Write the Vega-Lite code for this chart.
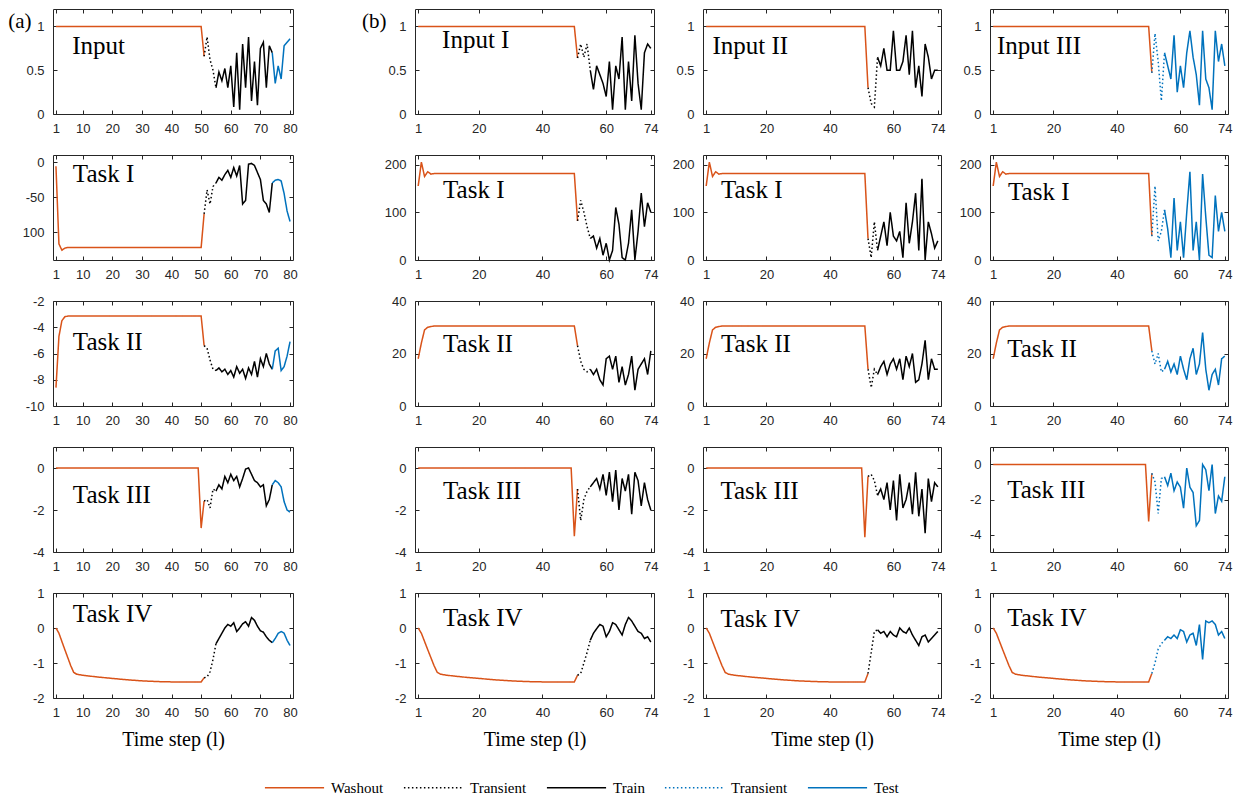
{
"$schema":"https://vega.github.io/schema/vega-lite/v6.json",
"padding":{"left":7,"top":8,"right":5,"bottom":5},
"background":"white",
"datasets":{"d":[
{"p":"a1","t":1,"v":1,"s":"W"},{"p":"a1","t":25,"v":1,"s":"W"},{"p":"a1","t":50,"v":1,"s":"W"},{"p":"a1","t":51,"v":0.66,"s":"W"},
{"p":"a1","t":51,"v":0.66,"s":"T1"},{"p":"a1","t":52,"v":0.88,"s":"T1"},{"p":"a1","t":53,"v":0.62,"s":"T1"},{"p":"a1","t":54,"v":0.5,"s":"T1"},{"p":"a1","t":55,"v":0.3,"s":"T1"},
{"p":"a1","t":55,"v":0.3,"s":"R"},{"p":"a1","t":56,"v":0.48,"s":"R"},{"p":"a1","t":57,"v":0.38,"s":"R"},{"p":"a1","t":58,"v":0.52,"s":"R"},{"p":"a1","t":59,"v":0.3,"s":"R"},{"p":"a1","t":60,"v":0.55,"s":"R"},{"p":"a1","t":61,"v":0.08,"s":"R"},{"p":"a1","t":62,"v":0.7,"s":"R"},{"p":"a1","t":63,"v":0.05,"s":"R"},{"p":"a1","t":64,"v":0.8,"s":"R"},{"p":"a1","t":65,"v":0.3,"s":"R"},{"p":"a1","t":66,"v":0.88,"s":"R"},{"p":"a1","t":67,"v":0.15,"s":"R"},{"p":"a1","t":68,"v":0.6,"s":"R"},{"p":"a1","t":69,"v":0.1,"s":"R"},{"p":"a1","t":70,"v":0.75,"s":"R"},{"p":"a1","t":71,"v":0.82,"s":"R"},{"p":"a1","t":72,"v":0.3,"s":"R"},{"p":"a1","t":73,"v":0.78,"s":"R"},{"p":"a1","t":74,"v":0.7,"s":"R"},
{"p":"a1","t":74,"v":0.7,"s":"E"},{"p":"a1","t":75,"v":0.35,"s":"E"},{"p":"a1","t":76,"v":0.55,"s":"E"},{"p":"a1","t":77,"v":0.4,"s":"E"},{"p":"a1","t":78,"v":0.78,"s":"E"},{"p":"a1","t":79,"v":0.82,"s":"E"},{"p":"a1","t":80,"v":0.86,"s":"E"},

{"p":"a2","t":1,"v":-6,"s":"W"},{"p":"a2","t":2,"v":-117,"s":"W"},{"p":"a2","t":3,"v":-126,"s":"W"},{"p":"a2","t":4,"v":-123,"s":"W"},{"p":"a2","t":5,"v":-122,"s":"W"},{"p":"a2","t":25,"v":-122,"s":"W"},{"p":"a2","t":50,"v":-122,"s":"W"},{"p":"a2","t":51,"v":-74,"s":"W"},
{"p":"a2","t":51,"v":-74,"s":"T1"},{"p":"a2","t":52,"v":-40,"s":"T1"},{"p":"a2","t":53,"v":-60,"s":"T1"},{"p":"a2","t":54,"v":-35,"s":"T1"},{"p":"a2","t":55,"v":-30,"s":"T1"},
{"p":"a2","t":55,"v":-30,"s":"R"},{"p":"a2","t":56,"v":-22,"s":"R"},{"p":"a2","t":57,"v":-26,"s":"R"},{"p":"a2","t":58,"v":-18,"s":"R"},{"p":"a2","t":59,"v":-12,"s":"R"},{"p":"a2","t":60,"v":-22,"s":"R"},{"p":"a2","t":61,"v":-8,"s":"R"},{"p":"a2","t":62,"v":-20,"s":"R"},{"p":"a2","t":63,"v":-5,"s":"R"},{"p":"a2","t":64,"v":-60,"s":"R"},{"p":"a2","t":65,"v":-55,"s":"R"},{"p":"a2","t":66,"v":-3,"s":"R"},{"p":"a2","t":67,"v":-2,"s":"R"},{"p":"a2","t":68,"v":-5,"s":"R"},{"p":"a2","t":69,"v":-15,"s":"R"},{"p":"a2","t":70,"v":-25,"s":"R"},{"p":"a2","t":71,"v":-55,"s":"R"},{"p":"a2","t":72,"v":-60,"s":"R"},{"p":"a2","t":73,"v":-72,"s":"R"},{"p":"a2","t":74,"v":-30,"s":"R"},
{"p":"a2","t":74,"v":-30,"s":"E"},{"p":"a2","t":75,"v":-26,"s":"E"},{"p":"a2","t":76,"v":-25,"s":"E"},{"p":"a2","t":77,"v":-27,"s":"E"},{"p":"a2","t":78,"v":-45,"s":"E"},{"p":"a2","t":79,"v":-70,"s":"E"},{"p":"a2","t":80,"v":-85,"s":"E"},

{"p":"a3","t":1,"v":-8.6,"s":"W"},{"p":"a3","t":2,"v":-4.7,"s":"W"},{"p":"a3","t":3,"v":-3.5,"s":"W"},{"p":"a3","t":4,"v":-3.2,"s":"W"},{"p":"a3","t":5,"v":-3.15,"s":"W"},{"p":"a3","t":25,"v":-3.15,"s":"W"},{"p":"a3","t":50,"v":-3.15,"s":"W"},{"p":"a3","t":51,"v":-5.4,"s":"W"},
{"p":"a3","t":51,"v":-5.4,"s":"T1"},{"p":"a3","t":52,"v":-5.6,"s":"T1"},{"p":"a3","t":53,"v":-6.5,"s":"T1"},{"p":"a3","t":54,"v":-7.2,"s":"T1"},{"p":"a3","t":55,"v":-7.3,"s":"T1"},
{"p":"a3","t":55,"v":-7.3,"s":"R"},{"p":"a3","t":56,"v":-7.1,"s":"R"},{"p":"a3","t":57,"v":-7.4,"s":"R"},{"p":"a3","t":58,"v":-7.2,"s":"R"},{"p":"a3","t":59,"v":-7.6,"s":"R"},{"p":"a3","t":60,"v":-7.3,"s":"R"},{"p":"a3","t":61,"v":-7.8,"s":"R"},{"p":"a3","t":62,"v":-7.0,"s":"R"},{"p":"a3","t":63,"v":-7.5,"s":"R"},{"p":"a3","t":64,"v":-7.2,"s":"R"},{"p":"a3","t":65,"v":-7.9,"s":"R"},{"p":"a3","t":66,"v":-7.1,"s":"R"},{"p":"a3","t":67,"v":-7.6,"s":"R"},{"p":"a3","t":68,"v":-6.6,"s":"R"},{"p":"a3","t":69,"v":-7.8,"s":"R"},{"p":"a3","t":70,"v":-6.4,"s":"R"},{"p":"a3","t":71,"v":-7.0,"s":"R"},{"p":"a3","t":72,"v":-6.0,"s":"R"},{"p":"a3","t":73,"v":-6.8,"s":"R"},{"p":"a3","t":74,"v":-7.2,"s":"R"},
{"p":"a3","t":74,"v":-7.2,"s":"E"},{"p":"a3","t":75,"v":-5.8,"s":"E"},{"p":"a3","t":76,"v":-5.6,"s":"E"},{"p":"a3","t":77,"v":-7.3,"s":"E"},{"p":"a3","t":78,"v":-7.0,"s":"E"},{"p":"a3","t":79,"v":-6.2,"s":"E"},{"p":"a3","t":80,"v":-5.1,"s":"E"},

{"p":"a4","t":1,"v":0,"s":"W"},{"p":"a4","t":25,"v":0,"s":"W"},{"p":"a4","t":49,"v":0,"s":"W"},{"p":"a4","t":50,"v":-2.86,"s":"W"},{"p":"a4","t":51,"v":-1.57,"s":"W"},
{"p":"a4","t":51,"v":-1.57,"s":"T1"},{"p":"a4","t":52,"v":-1.5,"s":"T1"},{"p":"a4","t":53,"v":-1.9,"s":"T1"},{"p":"a4","t":54,"v":-1.0,"s":"T1"},{"p":"a4","t":55,"v":-1.1,"s":"T1"},
{"p":"a4","t":55,"v":-1.1,"s":"R"},{"p":"a4","t":56,"v":-0.8,"s":"R"},{"p":"a4","t":57,"v":-1.0,"s":"R"},{"p":"a4","t":58,"v":-0.4,"s":"R"},{"p":"a4","t":59,"v":-0.7,"s":"R"},{"p":"a4","t":60,"v":-0.3,"s":"R"},{"p":"a4","t":61,"v":-0.6,"s":"R"},{"p":"a4","t":62,"v":-0.4,"s":"R"},{"p":"a4","t":63,"v":-0.9,"s":"R"},{"p":"a4","t":64,"v":-0.5,"s":"R"},{"p":"a4","t":65,"v":-0.05,"s":"R"},{"p":"a4","t":66,"v":0.0,"s":"R"},{"p":"a4","t":67,"v":-0.3,"s":"R"},{"p":"a4","t":68,"v":-0.6,"s":"R"},{"p":"a4","t":69,"v":-0.7,"s":"R"},{"p":"a4","t":70,"v":-0.9,"s":"R"},{"p":"a4","t":71,"v":-0.8,"s":"R"},{"p":"a4","t":72,"v":-1.8,"s":"R"},{"p":"a4","t":73,"v":-1.5,"s":"R"},{"p":"a4","t":74,"v":-0.8,"s":"R"},
{"p":"a4","t":74,"v":-0.8,"s":"E"},{"p":"a4","t":75,"v":-0.6,"s":"E"},{"p":"a4","t":76,"v":-0.7,"s":"E"},{"p":"a4","t":77,"v":-0.9,"s":"E"},{"p":"a4","t":78,"v":-1.6,"s":"E"},{"p":"a4","t":79,"v":-2.0,"s":"E"},{"p":"a4","t":80,"v":-2.1,"s":"E"},

{"p":"a5","t":1,"v":0,"s":"W"},{"p":"a5","t":2,"v":-0.15,"s":"W"},{"p":"a5","t":4,"v":-0.62,"s":"W"},{"p":"a5","t":6,"v":-1.08,"s":"W"},{"p":"a5","t":7,"v":-1.27,"s":"W"},{"p":"a5","t":8,"v":-1.32,"s":"W"},{"p":"a5","t":10,"v":-1.35,"s":"W"},{"p":"a5","t":15,"v":-1.4,"s":"W"},{"p":"a5","t":20,"v":-1.44,"s":"W"},{"p":"a5","t":25,"v":-1.48,"s":"W"},{"p":"a5","t":30,"v":-1.51,"s":"W"},{"p":"a5","t":35,"v":-1.53,"s":"W"},{"p":"a5","t":40,"v":-1.54,"s":"W"},{"p":"a5","t":45,"v":-1.54,"s":"W"},{"p":"a5","t":50,"v":-1.54,"s":"W"},{"p":"a5","t":51,"v":-1.42,"s":"W"},
{"p":"a5","t":51,"v":-1.42,"s":"T1"},{"p":"a5","t":52,"v":-1.4,"s":"T1"},{"p":"a5","t":53,"v":-1.25,"s":"T1"},{"p":"a5","t":54,"v":-0.9,"s":"T1"},{"p":"a5","t":55,"v":-0.45,"s":"T1"},
{"p":"a5","t":55,"v":-0.45,"s":"R"},{"p":"a5","t":56,"v":-0.3,"s":"R"},{"p":"a5","t":57,"v":-0.15,"s":"R"},{"p":"a5","t":58,"v":0.0,"s":"R"},{"p":"a5","t":59,"v":0.1,"s":"R"},{"p":"a5","t":60,"v":0.05,"s":"R"},{"p":"a5","t":61,"v":0.15,"s":"R"},{"p":"a5","t":62,"v":-0.1,"s":"R"},{"p":"a5","t":63,"v":0.0,"s":"R"},{"p":"a5","t":64,"v":0.12,"s":"R"},{"p":"a5","t":65,"v":0.18,"s":"R"},{"p":"a5","t":66,"v":0.05,"s":"R"},{"p":"a5","t":67,"v":0.3,"s":"R"},{"p":"a5","t":68,"v":0.22,"s":"R"},{"p":"a5","t":69,"v":0.05,"s":"R"},{"p":"a5","t":70,"v":-0.08,"s":"R"},{"p":"a5","t":71,"v":-0.12,"s":"R"},{"p":"a5","t":72,"v":-0.25,"s":"R"},{"p":"a5","t":73,"v":-0.35,"s":"R"},{"p":"a5","t":74,"v":-0.42,"s":"R"},
{"p":"a5","t":74,"v":-0.42,"s":"E"},{"p":"a5","t":75,"v":-0.3,"s":"E"},{"p":"a5","t":76,"v":-0.15,"s":"E"},{"p":"a5","t":77,"v":-0.1,"s":"E"},{"p":"a5","t":78,"v":-0.15,"s":"E"},{"p":"a5","t":79,"v":-0.35,"s":"E"},{"p":"a5","t":80,"v":-0.5,"s":"E"},

{"p":"b1","t":1,"v":1,"s":"W"},{"p":"b1","t":25,"v":1,"s":"W"},{"p":"b1","t":50,"v":1,"s":"W"},{"p":"b1","t":51,"v":0.64,"s":"W"},
{"p":"b1","t":51,"v":0.64,"s":"T1"},{"p":"b1","t":52,"v":0.8,"s":"T1"},{"p":"b1","t":53,"v":0.65,"s":"T1"},{"p":"b1","t":54,"v":0.8,"s":"T1"},{"p":"b1","t":55,"v":0.5,"s":"T1"},
{"p":"b1","t":55,"v":0.5,"s":"R"},{"p":"b1","t":56,"v":0.28,"s":"R"},{"p":"b1","t":57,"v":0.55,"s":"R"},{"p":"b1","t":58,"v":0.45,"s":"R"},{"p":"b1","t":59,"v":0.35,"s":"R"},{"p":"b1","t":60,"v":0.2,"s":"R"},{"p":"b1","t":61,"v":0.6,"s":"R"},{"p":"b1","t":62,"v":0.05,"s":"R"},{"p":"b1","t":63,"v":0.55,"s":"R"},{"p":"b1","t":64,"v":0.4,"s":"R"},{"p":"b1","t":65,"v":0.88,"s":"R"},{"p":"b1","t":66,"v":0.05,"s":"R"},{"p":"b1","t":67,"v":0.6,"s":"R"},{"p":"b1","t":68,"v":0.15,"s":"R"},{"p":"b1","t":69,"v":0.9,"s":"R"},{"p":"b1","t":70,"v":0.35,"s":"R"},{"p":"b1","t":71,"v":0.05,"s":"R"},{"p":"b1","t":72,"v":0.7,"s":"R"},{"p":"b1","t":73,"v":0.8,"s":"R"},{"p":"b1","t":74,"v":0.75,"s":"R"},

{"p":"b2","t":1,"v":155,"s":"W"},{"p":"b2","t":2,"v":205,"s":"W"},{"p":"b2","t":3,"v":175,"s":"W"},{"p":"b2","t":4,"v":185,"s":"W"},{"p":"b2","t":5,"v":180,"s":"W"},{"p":"b2","t":6,"v":181,"s":"W"},{"p":"b2","t":25,"v":181,"s":"W"},{"p":"b2","t":50,"v":181,"s":"W"},{"p":"b2","t":51,"v":82,"s":"W"},
{"p":"b2","t":51,"v":82,"s":"T1"},{"p":"b2","t":52,"v":125,"s":"T1"},{"p":"b2","t":53,"v":100,"s":"T1"},{"p":"b2","t":54,"v":70,"s":"T1"},{"p":"b2","t":55,"v":45,"s":"T1"},
{"p":"b2","t":55,"v":45,"s":"R"},{"p":"b2","t":56,"v":50,"s":"R"},{"p":"b2","t":57,"v":25,"s":"R"},{"p":"b2","t":58,"v":45,"s":"R"},{"p":"b2","t":59,"v":10,"s":"R"},{"p":"b2","t":60,"v":35,"s":"R"},{"p":"b2","t":61,"v":0,"s":"R"},{"p":"b2","t":62,"v":20,"s":"R"},{"p":"b2","t":63,"v":110,"s":"R"},{"p":"b2","t":64,"v":75,"s":"R"},{"p":"b2","t":65,"v":5,"s":"R"},{"p":"b2","t":66,"v":0,"s":"R"},{"p":"b2","t":67,"v":35,"s":"R"},{"p":"b2","t":68,"v":105,"s":"R"},{"p":"b2","t":69,"v":0,"s":"R"},{"p":"b2","t":70,"v":60,"s":"R"},{"p":"b2","t":71,"v":140,"s":"R"},{"p":"b2","t":72,"v":70,"s":"R"},{"p":"b2","t":73,"v":120,"s":"R"},{"p":"b2","t":74,"v":100,"s":"R"},

{"p":"b3","t":1,"v":18,"s":"W"},{"p":"b3","t":2,"v":24,"s":"W"},{"p":"b3","t":3,"v":29,"s":"W"},{"p":"b3","t":4,"v":30,"s":"W"},{"p":"b3","t":6,"v":30.5,"s":"W"},{"p":"b3","t":25,"v":30.5,"s":"W"},{"p":"b3","t":50,"v":30.5,"s":"W"},{"p":"b3","t":51,"v":23,"s":"W"},
{"p":"b3","t":51,"v":23,"s":"T1"},{"p":"b3","t":52,"v":17,"s":"T1"},{"p":"b3","t":53,"v":14,"s":"T1"},{"p":"b3","t":54,"v":13,"s":"T1"},{"p":"b3","t":55,"v":14,"s":"T1"},
{"p":"b3","t":55,"v":14,"s":"R"},{"p":"b3","t":56,"v":12,"s":"R"},{"p":"b3","t":57,"v":14,"s":"R"},{"p":"b3","t":58,"v":10,"s":"R"},{"p":"b3","t":59,"v":8,"s":"R"},{"p":"b3","t":60,"v":18,"s":"R"},{"p":"b3","t":61,"v":19,"s":"R"},{"p":"b3","t":62,"v":14,"s":"R"},{"p":"b3","t":63,"v":19,"s":"R"},{"p":"b3","t":64,"v":9,"s":"R"},{"p":"b3","t":65,"v":15,"s":"R"},{"p":"b3","t":66,"v":8,"s":"R"},{"p":"b3","t":67,"v":12,"s":"R"},{"p":"b3","t":68,"v":19,"s":"R"},{"p":"b3","t":69,"v":6,"s":"R"},{"p":"b3","t":70,"v":14,"s":"R"},{"p":"b3","t":71,"v":16,"s":"R"},{"p":"b3","t":72,"v":18,"s":"R"},{"p":"b3","t":73,"v":12,"s":"R"},{"p":"b3","t":74,"v":21,"s":"R"},

{"p":"b4","t":1,"v":0,"s":"W"},{"p":"b4","t":25,"v":0,"s":"W"},{"p":"b4","t":49,"v":0,"s":"W"},{"p":"b4","t":50,"v":-3.25,"s":"W"},{"p":"b4","t":51,"v":-1.0,"s":"W"},
{"p":"b4","t":51,"v":-1.0,"s":"T1"},{"p":"b4","t":52,"v":-2.5,"s":"T1"},{"p":"b4","t":53,"v":-1.5,"s":"T1"},{"p":"b4","t":54,"v":-1.1,"s":"T1"},{"p":"b4","t":55,"v":-0.9,"s":"T1"},
{"p":"b4","t":55,"v":-0.9,"s":"R"},{"p":"b4","t":56,"v":-0.7,"s":"R"},{"p":"b4","t":57,"v":-0.5,"s":"R"},{"p":"b4","t":58,"v":-1.0,"s":"R"},{"p":"b4","t":59,"v":-0.3,"s":"R"},{"p":"b4","t":60,"v":-1.3,"s":"R"},{"p":"b4","t":61,"v":-0.2,"s":"R"},{"p":"b4","t":62,"v":-1.6,"s":"R"},{"p":"b4","t":63,"v":-0.1,"s":"R"},{"p":"b4","t":64,"v":-2.0,"s":"R"},{"p":"b4","t":65,"v":-0.5,"s":"R"},{"p":"b4","t":66,"v":-1.1,"s":"R"},{"p":"b4","t":67,"v":-0.3,"s":"R"},{"p":"b4","t":68,"v":-2.2,"s":"R"},{"p":"b4","t":69,"v":-0.2,"s":"R"},{"p":"b4","t":70,"v":-0.6,"s":"R"},{"p":"b4","t":71,"v":-1.8,"s":"R"},{"p":"b4","t":72,"v":-0.7,"s":"R"},{"p":"b4","t":73,"v":-1.5,"s":"R"},{"p":"b4","t":74,"v":-2.0,"s":"R"},

{"p":"b5","t":1,"v":0,"s":"W"},{"p":"b5","t":2,"v":-0.15,"s":"W"},{"p":"b5","t":4,"v":-0.62,"s":"W"},{"p":"b5","t":6,"v":-1.08,"s":"W"},{"p":"b5","t":7,"v":-1.27,"s":"W"},{"p":"b5","t":8,"v":-1.32,"s":"W"},{"p":"b5","t":10,"v":-1.35,"s":"W"},{"p":"b5","t":15,"v":-1.4,"s":"W"},{"p":"b5","t":20,"v":-1.44,"s":"W"},{"p":"b5","t":25,"v":-1.48,"s":"W"},{"p":"b5","t":30,"v":-1.51,"s":"W"},{"p":"b5","t":35,"v":-1.53,"s":"W"},{"p":"b5","t":40,"v":-1.54,"s":"W"},{"p":"b5","t":45,"v":-1.54,"s":"W"},{"p":"b5","t":50,"v":-1.54,"s":"W"},{"p":"b5","t":51,"v":-1.35,"s":"W"},
{"p":"b5","t":51,"v":-1.35,"s":"T1"},{"p":"b5","t":52,"v":-1.3,"s":"T1"},{"p":"b5","t":53,"v":-1.0,"s":"T1"},{"p":"b5","t":54,"v":-0.7,"s":"T1"},{"p":"b5","t":55,"v":-0.35,"s":"T1"},
{"p":"b5","t":55,"v":-0.35,"s":"R"},{"p":"b5","t":56,"v":-0.15,"s":"R"},{"p":"b5","t":57,"v":-0.02,"s":"R"},{"p":"b5","t":58,"v":0.1,"s":"R"},{"p":"b5","t":59,"v":0.05,"s":"R"},{"p":"b5","t":60,"v":-0.25,"s":"R"},{"p":"b5","t":61,"v":-0.1,"s":"R"},{"p":"b5","t":62,"v":0.15,"s":"R"},{"p":"b5","t":63,"v":0.1,"s":"R"},{"p":"b5","t":64,"v":-0.05,"s":"R"},{"p":"b5","t":65,"v":-0.2,"s":"R"},{"p":"b5","t":66,"v":0.1,"s":"R"},{"p":"b5","t":67,"v":0.3,"s":"R"},{"p":"b5","t":68,"v":0.2,"s":"R"},{"p":"b5","t":69,"v":0.05,"s":"R"},{"p":"b5","t":70,"v":-0.1,"s":"R"},{"p":"b5","t":71,"v":-0.15,"s":"R"},{"p":"b5","t":72,"v":-0.3,"s":"R"},{"p":"b5","t":73,"v":-0.25,"s":"R"},{"p":"b5","t":74,"v":-0.4,"s":"R"},

{"p":"c1","t":1,"v":1,"s":"W"},{"p":"c1","t":25,"v":1,"s":"W"},{"p":"c1","t":51,"v":1,"s":"W"},{"p":"c1","t":52,"v":0.3,"s":"W"},
{"p":"c1","t":52,"v":0.3,"s":"T1"},{"p":"c1","t":53,"v":0.12,"s":"T1"},{"p":"c1","t":54,"v":0.08,"s":"T1"},{"p":"c1","t":55,"v":0.65,"s":"T1"},
{"p":"c1","t":55,"v":0.65,"s":"R"},{"p":"c1","t":56,"v":0.55,"s":"R"},{"p":"c1","t":57,"v":0.75,"s":"R"},{"p":"c1","t":58,"v":0.5,"s":"R"},{"p":"c1","t":59,"v":0.5,"s":"R"},{"p":"c1","t":60,"v":0.95,"s":"R"},{"p":"c1","t":61,"v":0.5,"s":"R"},{"p":"c1","t":62,"v":0.5,"s":"R"},{"p":"c1","t":63,"v":0.6,"s":"R"},{"p":"c1","t":64,"v":0.9,"s":"R"},{"p":"c1","t":65,"v":0.45,"s":"R"},{"p":"c1","t":66,"v":0.95,"s":"R"},{"p":"c1","t":67,"v":0.3,"s":"R"},{"p":"c1","t":68,"v":0.55,"s":"R"},{"p":"c1","t":69,"v":0.2,"s":"R"},{"p":"c1","t":70,"v":0.8,"s":"R"},{"p":"c1","t":71,"v":0.65,"s":"R"},{"p":"c1","t":72,"v":0.4,"s":"R"},{"p":"c1","t":73,"v":0.5,"s":"R"},{"p":"c1","t":74,"v":0.5,"s":"R"},

{"p":"c2","t":1,"v":155,"s":"W"},{"p":"c2","t":2,"v":205,"s":"W"},{"p":"c2","t":3,"v":175,"s":"W"},{"p":"c2","t":4,"v":185,"s":"W"},{"p":"c2","t":5,"v":180,"s":"W"},{"p":"c2","t":6,"v":181,"s":"W"},{"p":"c2","t":25,"v":181,"s":"W"},{"p":"c2","t":51,"v":181,"s":"W"},{"p":"c2","t":52,"v":45,"s":"W"},
{"p":"c2","t":52,"v":45,"s":"T1"},{"p":"c2","t":53,"v":5,"s":"T1"},{"p":"c2","t":54,"v":80,"s":"T1"},{"p":"c2","t":55,"v":20,"s":"T1"},
{"p":"c2","t":55,"v":20,"s":"R"},{"p":"c2","t":56,"v":50,"s":"R"},{"p":"c2","t":57,"v":80,"s":"R"},{"p":"c2","t":58,"v":30,"s":"R"},{"p":"c2","t":59,"v":100,"s":"R"},{"p":"c2","t":60,"v":50,"s":"R"},{"p":"c2","t":61,"v":40,"s":"R"},{"p":"c2","t":62,"v":60,"s":"R"},{"p":"c2","t":63,"v":5,"s":"R"},{"p":"c2","t":64,"v":120,"s":"R"},{"p":"c2","t":65,"v":35,"s":"R"},{"p":"c2","t":66,"v":80,"s":"R"},{"p":"c2","t":67,"v":140,"s":"R"},{"p":"c2","t":68,"v":20,"s":"R"},{"p":"c2","t":69,"v":170,"s":"R"},{"p":"c2","t":70,"v":0,"s":"R"},{"p":"c2","t":71,"v":80,"s":"R"},{"p":"c2","t":72,"v":55,"s":"R"},{"p":"c2","t":73,"v":25,"s":"R"},{"p":"c2","t":74,"v":40,"s":"R"},

{"p":"c3","t":1,"v":18,"s":"W"},{"p":"c3","t":2,"v":24,"s":"W"},{"p":"c3","t":3,"v":29,"s":"W"},{"p":"c3","t":4,"v":30,"s":"W"},{"p":"c3","t":6,"v":30.5,"s":"W"},{"p":"c3","t":25,"v":30.5,"s":"W"},{"p":"c3","t":51,"v":30.5,"s":"W"},{"p":"c3","t":52,"v":14,"s":"W"},
{"p":"c3","t":52,"v":14,"s":"T1"},{"p":"c3","t":53,"v":7,"s":"T1"},{"p":"c3","t":54,"v":14,"s":"T1"},{"p":"c3","t":55,"v":12,"s":"T1"},
{"p":"c3","t":55,"v":12,"s":"R"},{"p":"c3","t":56,"v":15,"s":"R"},{"p":"c3","t":57,"v":17,"s":"R"},{"p":"c3","t":58,"v":12,"s":"R"},{"p":"c3","t":59,"v":16,"s":"R"},{"p":"c3","t":60,"v":18,"s":"R"},{"p":"c3","t":61,"v":14,"s":"R"},{"p":"c3","t":62,"v":18,"s":"R"},{"p":"c3","t":63,"v":10,"s":"R"},{"p":"c3","t":64,"v":19,"s":"R"},{"p":"c3","t":65,"v":15,"s":"R"},{"p":"c3","t":66,"v":20,"s":"R"},{"p":"c3","t":67,"v":9,"s":"R"},{"p":"c3","t":68,"v":10,"s":"R"},{"p":"c3","t":69,"v":16,"s":"R"},{"p":"c3","t":70,"v":25,"s":"R"},{"p":"c3","t":71,"v":10,"s":"R"},{"p":"c3","t":72,"v":18,"s":"R"},{"p":"c3","t":73,"v":14,"s":"R"},{"p":"c3","t":74,"v":14,"s":"R"},

{"p":"c4","t":1,"v":0,"s":"W"},{"p":"c4","t":25,"v":0,"s":"W"},{"p":"c4","t":50,"v":0,"s":"W"},{"p":"c4","t":51,"v":-3.3,"s":"W"},{"p":"c4","t":52,"v":-0.4,"s":"W"},
{"p":"c4","t":52,"v":-0.4,"s":"T1"},{"p":"c4","t":53,"v":-0.3,"s":"T1"},{"p":"c4","t":54,"v":-0.6,"s":"T1"},{"p":"c4","t":55,"v":-1.3,"s":"T1"},
{"p":"c4","t":55,"v":-1.3,"s":"R"},{"p":"c4","t":56,"v":-1.0,"s":"R"},{"p":"c4","t":57,"v":-1.5,"s":"R"},{"p":"c4","t":58,"v":-0.7,"s":"R"},{"p":"c4","t":59,"v":-2.0,"s":"R"},{"p":"c4","t":60,"v":-0.6,"s":"R"},{"p":"c4","t":61,"v":-2.5,"s":"R"},{"p":"c4","t":62,"v":-0.3,"s":"R"},{"p":"c4","t":63,"v":-1.9,"s":"R"},{"p":"c4","t":64,"v":-1.5,"s":"R"},{"p":"c4","t":65,"v":-0.7,"s":"R"},{"p":"c4","t":66,"v":-2.2,"s":"R"},{"p":"c4","t":67,"v":-0.2,"s":"R"},{"p":"c4","t":68,"v":-2.3,"s":"R"},{"p":"c4","t":69,"v":-1.0,"s":"R"},{"p":"c4","t":70,"v":-3.1,"s":"R"},{"p":"c4","t":71,"v":-0.5,"s":"R"},{"p":"c4","t":72,"v":-1.6,"s":"R"},{"p":"c4","t":73,"v":-0.7,"s":"R"},{"p":"c4","t":74,"v":-0.9,"s":"R"},

{"p":"c5","t":1,"v":0,"s":"W"},{"p":"c5","t":2,"v":-0.15,"s":"W"},{"p":"c5","t":4,"v":-0.62,"s":"W"},{"p":"c5","t":6,"v":-1.08,"s":"W"},{"p":"c5","t":7,"v":-1.27,"s":"W"},{"p":"c5","t":8,"v":-1.32,"s":"W"},{"p":"c5","t":10,"v":-1.35,"s":"W"},{"p":"c5","t":15,"v":-1.4,"s":"W"},{"p":"c5","t":20,"v":-1.44,"s":"W"},{"p":"c5","t":25,"v":-1.48,"s":"W"},{"p":"c5","t":30,"v":-1.51,"s":"W"},{"p":"c5","t":35,"v":-1.53,"s":"W"},{"p":"c5","t":40,"v":-1.54,"s":"W"},{"p":"c5","t":45,"v":-1.54,"s":"W"},{"p":"c5","t":51,"v":-1.54,"s":"W"},{"p":"c5","t":52,"v":-1.3,"s":"W"},
{"p":"c5","t":52,"v":-1.3,"s":"T1"},{"p":"c5","t":53,"v":-0.7,"s":"T1"},{"p":"c5","t":54,"v":-0.1,"s":"T1"},{"p":"c5","t":55,"v":-0.05,"s":"T1"},
{"p":"c5","t":55,"v":-0.05,"s":"R"},{"p":"c5","t":56,"v":-0.15,"s":"R"},{"p":"c5","t":57,"v":-0.1,"s":"R"},{"p":"c5","t":58,"v":-0.25,"s":"R"},{"p":"c5","t":59,"v":-0.1,"s":"R"},{"p":"c5","t":60,"v":-0.2,"s":"R"},{"p":"c5","t":61,"v":-0.25,"s":"R"},{"p":"c5","t":62,"v":0.0,"s":"R"},{"p":"c5","t":63,"v":-0.1,"s":"R"},{"p":"c5","t":64,"v":-0.15,"s":"R"},{"p":"c5","t":65,"v":0.0,"s":"R"},{"p":"c5","t":66,"v":-0.2,"s":"R"},{"p":"c5","t":67,"v":-0.35,"s":"R"},{"p":"c5","t":68,"v":-0.5,"s":"R"},{"p":"c5","t":69,"v":-0.25,"s":"R"},{"p":"c5","t":70,"v":-0.2,"s":"R"},{"p":"c5","t":71,"v":-0.4,"s":"R"},{"p":"c5","t":72,"v":-0.3,"s":"R"},{"p":"c5","t":73,"v":-0.2,"s":"R"},{"p":"c5","t":74,"v":-0.1,"s":"R"},

{"p":"d1","t":1,"v":1,"s":"W"},{"p":"d1","t":25,"v":1,"s":"W"},{"p":"d1","t":50,"v":1,"s":"W"},{"p":"d1","t":51,"v":0.47,"s":"W"},
{"p":"d1","t":51,"v":0.47,"s":"T2"},{"p":"d1","t":52,"v":0.92,"s":"T2"},{"p":"d1","t":53,"v":0.6,"s":"T2"},{"p":"d1","t":54,"v":0.15,"s":"T2"},{"p":"d1","t":55,"v":0.7,"s":"T2"},
{"p":"d1","t":55,"v":0.7,"s":"E"},{"p":"d1","t":56,"v":0.55,"s":"E"},{"p":"d1","t":57,"v":0.4,"s":"E"},{"p":"d1","t":58,"v":0.9,"s":"E"},{"p":"d1","t":59,"v":0.25,"s":"E"},{"p":"d1","t":60,"v":0.55,"s":"E"},{"p":"d1","t":61,"v":0.3,"s":"E"},{"p":"d1","t":62,"v":0.7,"s":"E"},{"p":"d1","t":63,"v":0.95,"s":"E"},{"p":"d1","t":64,"v":0.65,"s":"E"},{"p":"d1","t":65,"v":0.45,"s":"E"},{"p":"d1","t":66,"v":0.1,"s":"E"},{"p":"d1","t":67,"v":0.95,"s":"E"},{"p":"d1","t":68,"v":0.4,"s":"E"},{"p":"d1","t":69,"v":0.3,"s":"E"},{"p":"d1","t":70,"v":0.05,"s":"E"},{"p":"d1","t":71,"v":0.95,"s":"E"},{"p":"d1","t":72,"v":0.6,"s":"E"},{"p":"d1","t":73,"v":0.8,"s":"E"},{"p":"d1","t":74,"v":0.55,"s":"E"},

{"p":"d2","t":1,"v":155,"s":"W"},{"p":"d2","t":2,"v":205,"s":"W"},{"p":"d2","t":3,"v":175,"s":"W"},{"p":"d2","t":4,"v":185,"s":"W"},{"p":"d2","t":5,"v":180,"s":"W"},{"p":"d2","t":6,"v":181,"s":"W"},{"p":"d2","t":25,"v":181,"s":"W"},{"p":"d2","t":50,"v":181,"s":"W"},{"p":"d2","t":51,"v":50,"s":"W"},
{"p":"d2","t":51,"v":50,"s":"T2"},{"p":"d2","t":52,"v":155,"s":"T2"},{"p":"d2","t":53,"v":40,"s":"T2"},{"p":"d2","t":54,"v":60,"s":"T2"},{"p":"d2","t":55,"v":105,"s":"T2"},
{"p":"d2","t":55,"v":105,"s":"E"},{"p":"d2","t":56,"v":65,"s":"E"},{"p":"d2","t":57,"v":5,"s":"E"},{"p":"d2","t":58,"v":130,"s":"E"},{"p":"d2","t":59,"v":20,"s":"E"},{"p":"d2","t":60,"v":80,"s":"E"},{"p":"d2","t":61,"v":5,"s":"E"},{"p":"d2","t":62,"v":100,"s":"E"},{"p":"d2","t":63,"v":185,"s":"E"},{"p":"d2","t":64,"v":20,"s":"E"},{"p":"d2","t":65,"v":80,"s":"E"},{"p":"d2","t":66,"v":0,"s":"E"},{"p":"d2","t":67,"v":180,"s":"E"},{"p":"d2","t":68,"v":90,"s":"E"},{"p":"d2","t":69,"v":10,"s":"E"},{"p":"d2","t":70,"v":5,"s":"E"},{"p":"d2","t":71,"v":135,"s":"E"},{"p":"d2","t":72,"v":60,"s":"E"},{"p":"d2","t":73,"v":100,"s":"E"},{"p":"d2","t":74,"v":60,"s":"E"},

{"p":"d3","t":1,"v":18,"s":"W"},{"p":"d3","t":2,"v":24,"s":"W"},{"p":"d3","t":3,"v":29,"s":"W"},{"p":"d3","t":4,"v":30,"s":"W"},{"p":"d3","t":6,"v":30.5,"s":"W"},{"p":"d3","t":25,"v":30.5,"s":"W"},{"p":"d3","t":50,"v":30.5,"s":"W"},{"p":"d3","t":51,"v":21,"s":"W"},
{"p":"d3","t":51,"v":21,"s":"T2"},{"p":"d3","t":52,"v":16,"s":"T2"},{"p":"d3","t":53,"v":20,"s":"T2"},{"p":"d3","t":54,"v":13,"s":"T2"},{"p":"d3","t":55,"v":14,"s":"T2"},
{"p":"d3","t":55,"v":14,"s":"E"},{"p":"d3","t":56,"v":17,"s":"E"},{"p":"d3","t":57,"v":13,"s":"E"},{"p":"d3","t":58,"v":16,"s":"E"},{"p":"d3","t":59,"v":12,"s":"E"},{"p":"d3","t":60,"v":19,"s":"E"},{"p":"d3","t":61,"v":14,"s":"E"},{"p":"d3","t":62,"v":10,"s":"E"},{"p":"d3","t":63,"v":18,"s":"E"},{"p":"d3","t":64,"v":22,"s":"E"},{"p":"d3","t":65,"v":12,"s":"E"},{"p":"d3","t":66,"v":16,"s":"E"},{"p":"d3","t":67,"v":28,"s":"E"},{"p":"d3","t":68,"v":14,"s":"E"},{"p":"d3","t":69,"v":6,"s":"E"},{"p":"d3","t":70,"v":12,"s":"E"},{"p":"d3","t":71,"v":14,"s":"E"},{"p":"d3","t":72,"v":8,"s":"E"},{"p":"d3","t":73,"v":18,"s":"E"},{"p":"d3","t":74,"v":19,"s":"E"},

{"p":"d4","t":1,"v":0,"s":"W"},{"p":"d4","t":25,"v":0,"s":"W"},{"p":"d4","t":49,"v":0,"s":"W"},{"p":"d4","t":50,"v":-3.25,"s":"W"},{"p":"d4","t":51,"v":-0.5,"s":"W"},
{"p":"d4","t":51,"v":-0.5,"s":"T2"},{"p":"d4","t":52,"v":-1.0,"s":"T2"},{"p":"d4","t":53,"v":-2.8,"s":"T2"},{"p":"d4","t":54,"v":-0.8,"s":"T2"},{"p":"d4","t":55,"v":-0.7,"s":"T2"},
{"p":"d4","t":55,"v":-0.7,"s":"E"},{"p":"d4","t":56,"v":-1.2,"s":"E"},{"p":"d4","t":57,"v":-0.5,"s":"E"},{"p":"d4","t":58,"v":-1.5,"s":"E"},{"p":"d4","t":59,"v":-1.0,"s":"E"},{"p":"d4","t":60,"v":-1.3,"s":"E"},{"p":"d4","t":61,"v":-2.5,"s":"E"},{"p":"d4","t":62,"v":-0.2,"s":"E"},{"p":"d4","t":63,"v":-1.3,"s":"E"},{"p":"d4","t":64,"v":-1.6,"s":"E"},{"p":"d4","t":65,"v":-3.5,"s":"E"},{"p":"d4","t":66,"v":-3.2,"s":"E"},{"p":"d4","t":67,"v":0.0,"s":"E"},{"p":"d4","t":68,"v":-0.3,"s":"E"},{"p":"d4","t":69,"v":-1.5,"s":"E"},{"p":"d4","t":70,"v":0.0,"s":"E"},{"p":"d4","t":71,"v":-2.8,"s":"E"},{"p":"d4","t":72,"v":-1.8,"s":"E"},{"p":"d4","t":73,"v":-2.1,"s":"E"},{"p":"d4","t":74,"v":-0.7,"s":"E"},

{"p":"d5","t":1,"v":0,"s":"W"},{"p":"d5","t":2,"v":-0.15,"s":"W"},{"p":"d5","t":4,"v":-0.62,"s":"W"},{"p":"d5","t":6,"v":-1.08,"s":"W"},{"p":"d5","t":7,"v":-1.27,"s":"W"},{"p":"d5","t":8,"v":-1.32,"s":"W"},{"p":"d5","t":10,"v":-1.35,"s":"W"},{"p":"d5","t":15,"v":-1.4,"s":"W"},{"p":"d5","t":20,"v":-1.44,"s":"W"},{"p":"d5","t":25,"v":-1.48,"s":"W"},{"p":"d5","t":30,"v":-1.51,"s":"W"},{"p":"d5","t":35,"v":-1.53,"s":"W"},{"p":"d5","t":40,"v":-1.54,"s":"W"},{"p":"d5","t":45,"v":-1.54,"s":"W"},{"p":"d5","t":50,"v":-1.54,"s":"W"},{"p":"d5","t":51,"v":-1.3,"s":"W"},
{"p":"d5","t":51,"v":-1.3,"s":"T2"},{"p":"d5","t":52,"v":-1.0,"s":"T2"},{"p":"d5","t":53,"v":-0.6,"s":"T2"},{"p":"d5","t":54,"v":-0.45,"s":"T2"},{"p":"d5","t":55,"v":-0.35,"s":"T2"},
{"p":"d5","t":55,"v":-0.35,"s":"E"},{"p":"d5","t":56,"v":-0.25,"s":"E"},{"p":"d5","t":57,"v":-0.3,"s":"E"},{"p":"d5","t":58,"v":-0.2,"s":"E"},{"p":"d5","t":59,"v":-0.3,"s":"E"},{"p":"d5","t":60,"v":-0.05,"s":"E"},{"p":"d5","t":61,"v":-0.1,"s":"E"},{"p":"d5","t":62,"v":-0.4,"s":"E"},{"p":"d5","t":63,"v":-0.2,"s":"E"},{"p":"d5","t":64,"v":-0.15,"s":"E"},{"p":"d5","t":65,"v":-0.5,"s":"E"},{"p":"d5","t":66,"v":0.1,"s":"E"},{"p":"d5","t":67,"v":-0.9,"s":"E"},{"p":"d5","t":68,"v":0.2,"s":"E"},{"p":"d5","t":69,"v":0.15,"s":"E"},{"p":"d5","t":70,"v":0.2,"s":"E"},{"p":"d5","t":71,"v":0.1,"s":"E"},{"p":"d5","t":72,"v":-0.2,"s":"E"},{"p":"d5","t":73,"v":-0.1,"s":"E"},{"p":"d5","t":74,"v":-0.3,"s":"E"}
]},
"columns":5,
"align":"each",
"bounds":"flush",
"spacing":{"row":41,"column":49},
"concat":[
{"width":240,"height":105,"layer":[
 {"data":{"name":"d"},"transform":[{"filter":"datum.p=='a1'"}],"mark":{"type":"line","strokeWidth":1.5},
  "encoding":{"x":{"field":"t","type":"quantitative","scale":{"domain":[0,81],"nice":false,"zero":false},"axis":{"orient":"bottom","values":[1,10,20,30,40,50,60,70,80],"title":null}},
   "y":{"field":"v","type":"quantitative","scale":{"domain":[0,1.2],"nice":false,"zero":false},"axis":{"orient":"left","values":[0,0.5,1],"labelExpr":"datum.value+''","title":"(a)","titleAngle":0,"titleAlign":"right","titleBaseline":"top","titleX":-22,"titleY":1,"titleFontSize":21}},
   "color":{"field":"s","type":"nominal","scale":{"domain":["W","T1","R","T2","E"],"range":["#D95319","#000000","#000000","#0072BD","#0072BD"]},"legend":{"orient":"none","legendX":211,"legendY":748,"direction":"horizontal","title":null,"symbolType":"stroke","symbolSize":3500,"symbolStrokeWidth":1.5,"labelFont":"Liberation Serif","labelFontSize":15,"labelColor":"#000000","labelOffset":6,"columnPadding":16,"labelExpr":"datum.label=='W'?'Washout':datum.label=='R'?'Train':datum.label=='E'?'Test':'Transient'"}},
   "strokeDash":{"field":"s","type":"nominal","scale":{"domain":["W","T1","R","T2","E"],"range":[[1,0],[1.5,2.5],[1,0],[1.5,2.5],[1,0]]},"legend":{"orient":"none","legendX":211,"legendY":748,"direction":"horizontal","title":null,"symbolType":"stroke","symbolSize":3500,"symbolStrokeWidth":1.5,"labelFont":"Liberation Serif","labelFontSize":15,"labelColor":"#000000","labelOffset":6,"columnPadding":16,"labelExpr":"datum.label=='W'?'Washout':datum.label=='R'?'Train':datum.label=='E'?'Test':'Transient'"}}}},
 {"data":{"values":[{"lab":"Input"}]},"mark":{"type":"text","align":"left","baseline":"alphabetic","font":"Liberation Serif","fontSize":25},
  "encoding":{"x":{"datum":6.5,"type":"quantitative","axis":{"orient":"top","labels":false,"title":null,"values":[1,10,20,30,40,50,60,70,80]}},"y":{"datum":0.69,"type":"quantitative","axis":{"orient":"right","labels":false,"title":null,"values":[0,0.5,1]}},"text":{"field":"lab"}}}
]},
{"width":24,"height":105,"view":{"stroke":null},"data":{"values":[{"a":1}]},"mark":{"type":"point","opacity":0}},
{"width":239,"height":105,"layer":[
 {"data":{"name":"d"},"transform":[{"filter":"datum.p=='b1'"}],"mark":{"type":"line","strokeWidth":1.5},
  "encoding":{"x":{"field":"t","type":"quantitative","scale":{"domain":[0,75],"nice":false,"zero":false},"axis":{"orient":"bottom","values":[1,20,40,60,74],"title":null}},
   "y":{"field":"v","type":"quantitative","scale":{"domain":[0,1.2],"nice":false,"zero":false},"axis":{"orient":"left","values":[0,0.5,1],"labelExpr":"datum.value+''","title":"(b)","titleAngle":0,"titleAlign":"right","titleBaseline":"top","titleX":-29,"titleY":1,"titleFontSize":21}},
   "color":{"field":"s","type":"nominal","scale":{"domain":["W","T1","R","T2","E"],"range":["#D95319","#000000","#000000","#0072BD","#0072BD"]},"legend":null},
   "strokeDash":{"field":"s","type":"nominal","scale":{"domain":["W","T1","R","T2","E"],"range":[[1,0],[1.5,2.5],[1,0],[1.5,2.5],[1,0]]},"legend":null}}},
 {"data":{"values":[{"lab":"Input I"}]},"mark":{"type":"text","align":"left","baseline":"alphabetic","font":"Liberation Serif","fontSize":25},
  "encoding":{"x":{"datum":8.5,"type":"quantitative","axis":{"orient":"top","labels":false,"title":null,"values":[1,20,40,60,74]}},"y":{"datum":0.75,"type":"quantitative","axis":{"orient":"right","labels":false,"title":null,"values":[0,0.5,1]}},"text":{"field":"lab"}}}
]},
{"width":238,"height":105,"layer":[
 {"data":{"name":"d"},"transform":[{"filter":"datum.p=='c1'"}],"mark":{"type":"line","strokeWidth":1.5},
  "encoding":{"x":{"field":"t","type":"quantitative","scale":{"domain":[0,75],"nice":false,"zero":false},"axis":{"orient":"bottom","values":[1,20,40,60,74],"title":null}},
   "y":{"field":"v","type":"quantitative","scale":{"domain":[0,1.2],"nice":false,"zero":false},"axis":{"orient":"left","values":[0,0.5,1],"labelExpr":"datum.value+''","title":null}},
   "color":{"field":"s","type":"nominal","scale":{"domain":["W","T1","R","T2","E"],"range":["#D95319","#000000","#000000","#0072BD","#0072BD"]},"legend":null},
   "strokeDash":{"field":"s","type":"nominal","scale":{"domain":["W","T1","R","T2","E"],"range":[[1,0],[1.5,2.5],[1,0],[1.5,2.5],[1,0]]},"legend":null}}},
 {"data":{"values":[{"lab":"Input II"}]},"mark":{"type":"text","align":"left","baseline":"alphabetic","font":"Liberation Serif","fontSize":25},
  "encoding":{"x":{"datum":3,"type":"quantitative","axis":{"orient":"top","labels":false,"title":null,"values":[1,20,40,60,74]}},"y":{"datum":0.69,"type":"quantitative","axis":{"orient":"right","labels":false,"title":null,"values":[0,0.5,1]}},"text":{"field":"lab"}}}
]},
{"width":238,"height":105,"layer":[
 {"data":{"name":"d"},"transform":[{"filter":"datum.p=='d1'"}],"mark":{"type":"line","strokeWidth":1.5},
  "encoding":{"x":{"field":"t","type":"quantitative","scale":{"domain":[0,75],"nice":false,"zero":false},"axis":{"orient":"bottom","values":[1,20,40,60,74],"title":null}},
   "y":{"field":"v","type":"quantitative","scale":{"domain":[0,1.2],"nice":false,"zero":false},"axis":{"orient":"left","values":[0,0.5,1],"labelExpr":"datum.value+''","title":null}},
   "color":{"field":"s","type":"nominal","scale":{"domain":["W","T1","R","T2","E"],"range":["#D95319","#000000","#000000","#0072BD","#0072BD"]},"legend":null},
   "strokeDash":{"field":"s","type":"nominal","scale":{"domain":["W","T1","R","T2","E"],"range":[[1,0],[1.5,2.5],[1,0],[1.5,2.5],[1,0]]},"legend":null}}},
 {"data":{"values":[{"lab":"Input III"}]},"mark":{"type":"text","align":"left","baseline":"alphabetic","font":"Liberation Serif","fontSize":25},
  "encoding":{"x":{"datum":2.2,"type":"quantitative","axis":{"orient":"top","labels":false,"title":null,"values":[1,20,40,60,74]}},"y":{"datum":0.69,"type":"quantitative","axis":{"orient":"right","labels":false,"title":null,"values":[0,0.5,1]}},"text":{"field":"lab"}}}
]},

{"width":240,"height":105,"layer":[
 {"data":{"name":"d"},"transform":[{"filter":"datum.p=='a2'"}],"mark":{"type":"line","strokeWidth":1.5},
  "encoding":{"x":{"field":"t","type":"quantitative","scale":{"domain":[0,81],"nice":false,"zero":false},"axis":{"orient":"bottom","values":[1,10,20,30,40,50,60,70,80],"title":null}},
   "y":{"field":"v","type":"quantitative","scale":{"domain":[-140,10],"nice":false,"zero":false},"axis":{"orient":"left","values":[0,-50,-100],"labelExpr":"datum.value==-100?'100':datum.value+''","title":null}},
   "color":{"field":"s","type":"nominal","scale":{"domain":["W","T1","R","T2","E"],"range":["#D95319","#000000","#000000","#0072BD","#0072BD"]},"legend":null},
   "strokeDash":{"field":"s","type":"nominal","scale":{"domain":["W","T1","R","T2","E"],"range":[[1,0],[1.5,2.5],[1,0],[1.5,2.5],[1,0]]},"legend":null}}},
 {"data":{"values":[{"lab":"Task I"}]},"mark":{"type":"text","align":"left","baseline":"alphabetic","font":"Liberation Serif","fontSize":25},
  "encoding":{"x":{"datum":6.7,"type":"quantitative","axis":{"orient":"top","labels":false,"title":null,"values":[1,10,20,30,40,50,60,70,80]}},"y":{"datum":-29,"type":"quantitative","axis":{"orient":"right","labels":false,"title":null,"values":[0,-50,-100]}},"text":{"field":"lab"}}}
]},
{"width":24,"height":105,"view":{"stroke":null},"data":{"values":[{"a":1}]},"mark":{"type":"point","opacity":0}},
{"width":239,"height":105,"layer":[
 {"data":{"name":"d"},"transform":[{"filter":"datum.p=='b2'"}],"mark":{"type":"line","strokeWidth":1.5},
  "encoding":{"x":{"field":"t","type":"quantitative","scale":{"domain":[0,75],"nice":false,"zero":false},"axis":{"orient":"bottom","values":[1,20,40,60,74],"title":null}},
   "y":{"field":"v","type":"quantitative","scale":{"domain":[0,220],"nice":false,"zero":false},"axis":{"orient":"left","values":[0,100,200],"labelExpr":"datum.value+''","title":null}},
   "color":{"field":"s","type":"nominal","scale":{"domain":["W","T1","R","T2","E"],"range":["#D95319","#000000","#000000","#0072BD","#0072BD"]},"legend":null},
   "strokeDash":{"field":"s","type":"nominal","scale":{"domain":["W","T1","R","T2","E"],"range":[[1,0],[1.5,2.5],[1,0],[1.5,2.5],[1,0]]},"legend":null}}},
 {"data":{"values":[{"lab":"Task I"}]},"mark":{"type":"text","align":"left","baseline":"alphabetic","font":"Liberation Serif","fontSize":25},
  "encoding":{"x":{"datum":8.8,"type":"quantitative","axis":{"orient":"top","labels":false,"title":null,"values":[1,20,40,60,74]}},"y":{"datum":129,"type":"quantitative","axis":{"orient":"right","labels":false,"title":null,"values":[0,100,200]}},"text":{"field":"lab"}}}
]},
{"width":238,"height":105,"layer":[
 {"data":{"name":"d"},"transform":[{"filter":"datum.p=='c2'"}],"mark":{"type":"line","strokeWidth":1.5},
  "encoding":{"x":{"field":"t","type":"quantitative","scale":{"domain":[0,75],"nice":false,"zero":false},"axis":{"orient":"bottom","values":[1,20,40,60,74],"title":null}},
   "y":{"field":"v","type":"quantitative","scale":{"domain":[0,220],"nice":false,"zero":false},"axis":{"orient":"left","values":[0,100,200],"labelExpr":"datum.value+''","title":null}},
   "color":{"field":"s","type":"nominal","scale":{"domain":["W","T1","R","T2","E"],"range":["#D95319","#000000","#000000","#0072BD","#0072BD"]},"legend":null},
   "strokeDash":{"field":"s","type":"nominal","scale":{"domain":["W","T1","R","T2","E"],"range":[[1,0],[1.5,2.5],[1,0],[1.5,2.5],[1,0]]},"legend":null}}},
 {"data":{"values":[{"lab":"Task I"}]},"mark":{"type":"text","align":"left","baseline":"alphabetic","font":"Liberation Serif","fontSize":25},
  "encoding":{"x":{"datum":5.7,"type":"quantitative","axis":{"orient":"top","labels":false,"title":null,"values":[1,20,40,60,74]}},"y":{"datum":129,"type":"quantitative","axis":{"orient":"right","labels":false,"title":null,"values":[0,100,200]}},"text":{"field":"lab"}}}
]},
{"width":238,"height":105,"layer":[
 {"data":{"name":"d"},"transform":[{"filter":"datum.p=='d2'"}],"mark":{"type":"line","strokeWidth":1.5},
  "encoding":{"x":{"field":"t","type":"quantitative","scale":{"domain":[0,75],"nice":false,"zero":false},"axis":{"orient":"bottom","values":[1,20,40,60,74],"title":null}},
   "y":{"field":"v","type":"quantitative","scale":{"domain":[0,220],"nice":false,"zero":false},"axis":{"orient":"left","values":[0,100,200],"labelExpr":"datum.value+''","title":null}},
   "color":{"field":"s","type":"nominal","scale":{"domain":["W","T1","R","T2","E"],"range":["#D95319","#000000","#000000","#0072BD","#0072BD"]},"legend":null},
   "strokeDash":{"field":"s","type":"nominal","scale":{"domain":["W","T1","R","T2","E"],"range":[[1,0],[1.5,2.5],[1,0],[1.5,2.5],[1,0]]},"legend":null}}},
 {"data":{"values":[{"lab":"Task I"}]},"mark":{"type":"text","align":"left","baseline":"alphabetic","font":"Liberation Serif","fontSize":25},
  "encoding":{"x":{"datum":5.7,"type":"quantitative","axis":{"orient":"top","labels":false,"title":null,"values":[1,20,40,60,74]}},"y":{"datum":125,"type":"quantitative","axis":{"orient":"right","labels":false,"title":null,"values":[0,100,200]}},"text":{"field":"lab"}}}
]},

{"width":240,"height":105,"layer":[
 {"data":{"name":"d"},"transform":[{"filter":"datum.p=='a3'"}],"mark":{"type":"line","strokeWidth":1.5},
  "encoding":{"x":{"field":"t","type":"quantitative","scale":{"domain":[0,81],"nice":false,"zero":false},"axis":{"orient":"bottom","values":[1,10,20,30,40,50,60,70,80],"title":null}},
   "y":{"field":"v","type":"quantitative","scale":{"domain":[-10,-2],"nice":false,"zero":false},"axis":{"orient":"left","values":[-2,-4,-6,-8,-10],"labelExpr":"datum.value+''","title":null}},
   "color":{"field":"s","type":"nominal","scale":{"domain":["W","T1","R","T2","E"],"range":["#D95319","#000000","#000000","#0072BD","#0072BD"]},"legend":null},
   "strokeDash":{"field":"s","type":"nominal","scale":{"domain":["W","T1","R","T2","E"],"range":[[1,0],[1.5,2.5],[1,0],[1.5,2.5],[1,0]]},"legend":null}}},
 {"data":{"values":[{"lab":"Task II"}]},"mark":{"type":"text","align":"left","baseline":"alphabetic","font":"Liberation Serif","fontSize":25},
  "encoding":{"x":{"datum":6.7,"type":"quantitative","axis":{"orient":"top","labels":false,"title":null,"values":[1,10,20,30,40,50,60,70,80]}},"y":{"datum":-5.77,"type":"quantitative","axis":{"orient":"right","labels":false,"title":null,"values":[-2,-4,-6,-8,-10]}},"text":{"field":"lab"}}}
]},
{"width":24,"height":105,"view":{"stroke":null},"data":{"values":[{"a":1}]},"mark":{"type":"point","opacity":0}},
{"width":239,"height":105,"layer":[
 {"data":{"name":"d"},"transform":[{"filter":"datum.p=='b3'"}],"mark":{"type":"line","strokeWidth":1.5},
  "encoding":{"x":{"field":"t","type":"quantitative","scale":{"domain":[0,75],"nice":false,"zero":false},"axis":{"orient":"bottom","values":[1,20,40,60,74],"title":null}},
   "y":{"field":"v","type":"quantitative","scale":{"domain":[0,40],"nice":false,"zero":false},"axis":{"orient":"left","values":[0,20,40],"labelExpr":"datum.value+''","title":null}},
   "color":{"field":"s","type":"nominal","scale":{"domain":["W","T1","R","T2","E"],"range":["#D95319","#000000","#000000","#0072BD","#0072BD"]},"legend":null},
   "strokeDash":{"field":"s","type":"nominal","scale":{"domain":["W","T1","R","T2","E"],"range":[[1,0],[1.5,2.5],[1,0],[1.5,2.5],[1,0]]},"legend":null}}},
 {"data":{"values":[{"lab":"Task II"}]},"mark":{"type":"text","align":"left","baseline":"alphabetic","font":"Liberation Serif","fontSize":25},
  "encoding":{"x":{"datum":8.8,"type":"quantitative","axis":{"orient":"top","labels":false,"title":null,"values":[1,20,40,60,74]}},"y":{"datum":20.4,"type":"quantitative","axis":{"orient":"right","labels":false,"title":null,"values":[0,20,40]}},"text":{"field":"lab"}}}
]},
{"width":238,"height":105,"layer":[
 {"data":{"name":"d"},"transform":[{"filter":"datum.p=='c3'"}],"mark":{"type":"line","strokeWidth":1.5},
  "encoding":{"x":{"field":"t","type":"quantitative","scale":{"domain":[0,75],"nice":false,"zero":false},"axis":{"orient":"bottom","values":[1,20,40,60,74],"title":null}},
   "y":{"field":"v","type":"quantitative","scale":{"domain":[0,40],"nice":false,"zero":false},"axis":{"orient":"left","values":[0,20,40],"labelExpr":"datum.value+''","title":null}},
   "color":{"field":"s","type":"nominal","scale":{"domain":["W","T1","R","T2","E"],"range":["#D95319","#000000","#000000","#0072BD","#0072BD"]},"legend":null},
   "strokeDash":{"field":"s","type":"nominal","scale":{"domain":["W","T1","R","T2","E"],"range":[[1,0],[1.5,2.5],[1,0],[1.5,2.5],[1,0]]},"legend":null}}},
 {"data":{"values":[{"lab":"Task II"}]},"mark":{"type":"text","align":"left","baseline":"alphabetic","font":"Liberation Serif","fontSize":25},
  "encoding":{"x":{"datum":5.7,"type":"quantitative","axis":{"orient":"top","labels":false,"title":null,"values":[1,20,40,60,74]}},"y":{"datum":20.4,"type":"quantitative","axis":{"orient":"right","labels":false,"title":null,"values":[0,20,40]}},"text":{"field":"lab"}}}
]},
{"width":238,"height":105,"layer":[
 {"data":{"name":"d"},"transform":[{"filter":"datum.p=='d3'"}],"mark":{"type":"line","strokeWidth":1.5},
  "encoding":{"x":{"field":"t","type":"quantitative","scale":{"domain":[0,75],"nice":false,"zero":false},"axis":{"orient":"bottom","values":[1,20,40,60,74],"title":null}},
   "y":{"field":"v","type":"quantitative","scale":{"domain":[0,40],"nice":false,"zero":false},"axis":{"orient":"left","values":[0,20,40],"labelExpr":"datum.value+''","title":null}},
   "color":{"field":"s","type":"nominal","scale":{"domain":["W","T1","R","T2","E"],"range":["#D95319","#000000","#000000","#0072BD","#0072BD"]},"legend":null},
   "strokeDash":{"field":"s","type":"nominal","scale":{"domain":["W","T1","R","T2","E"],"range":[[1,0],[1.5,2.5],[1,0],[1.5,2.5],[1,0]]},"legend":null}}},
 {"data":{"values":[{"lab":"Task II"}]},"mark":{"type":"text","align":"left","baseline":"alphabetic","font":"Liberation Serif","fontSize":25},
  "encoding":{"x":{"datum":5.4,"type":"quantitative","axis":{"orient":"top","labels":false,"title":null,"values":[1,20,40,60,74]}},"y":{"datum":18.5,"type":"quantitative","axis":{"orient":"right","labels":false,"title":null,"values":[0,20,40]}},"text":{"field":"lab"}}}
]},

{"width":240,"height":105,"layer":[
 {"data":{"name":"d"},"transform":[{"filter":"datum.p=='a4'"}],"mark":{"type":"line","strokeWidth":1.5},
  "encoding":{"x":{"field":"t","type":"quantitative","scale":{"domain":[0,81],"nice":false,"zero":false},"axis":{"orient":"bottom","values":[1,10,20,30,40,50,60,70,80],"title":null}},
   "y":{"field":"v","type":"quantitative","scale":{"domain":[-4,1],"nice":false,"zero":false},"axis":{"orient":"left","values":[0,-2,-4],"labelExpr":"datum.value+''","title":null}},
   "color":{"field":"s","type":"nominal","scale":{"domain":["W","T1","R","T2","E"],"range":["#D95319","#000000","#000000","#0072BD","#0072BD"]},"legend":null},
   "strokeDash":{"field":"s","type":"nominal","scale":{"domain":["W","T1","R","T2","E"],"range":[[1,0],[1.5,2.5],[1,0],[1.5,2.5],[1,0]]},"legend":null}}},
 {"data":{"values":[{"lab":"Task III"}]},"mark":{"type":"text","align":"left","baseline":"alphabetic","font":"Liberation Serif","fontSize":25},
  "encoding":{"x":{"datum":6.7,"type":"quantitative","axis":{"orient":"top","labels":false,"title":null,"values":[1,10,20,30,40,50,60,70,80]}},"y":{"datum":-1.67,"type":"quantitative","axis":{"orient":"right","labels":false,"title":null,"values":[0,-2,-4]}},"text":{"field":"lab"}}}
]},
{"width":24,"height":105,"view":{"stroke":null},"data":{"values":[{"a":1}]},"mark":{"type":"point","opacity":0}},
{"width":239,"height":105,"layer":[
 {"data":{"name":"d"},"transform":[{"filter":"datum.p=='b4'"}],"mark":{"type":"line","strokeWidth":1.5},
  "encoding":{"x":{"field":"t","type":"quantitative","scale":{"domain":[0,75],"nice":false,"zero":false},"axis":{"orient":"bottom","values":[1,20,40,60,74],"title":null}},
   "y":{"field":"v","type":"quantitative","scale":{"domain":[-4,1],"nice":false,"zero":false},"axis":{"orient":"left","values":[0,-2,-4],"labelExpr":"datum.value+''","title":null}},
   "color":{"field":"s","type":"nominal","scale":{"domain":["W","T1","R","T2","E"],"range":["#D95319","#000000","#000000","#0072BD","#0072BD"]},"legend":null},
   "strokeDash":{"field":"s","type":"nominal","scale":{"domain":["W","T1","R","T2","E"],"range":[[1,0],[1.5,2.5],[1,0],[1.5,2.5],[1,0]]},"legend":null}}},
 {"data":{"values":[{"lab":"Task III"}]},"mark":{"type":"text","align":"left","baseline":"alphabetic","font":"Liberation Serif","fontSize":25},
  "encoding":{"x":{"datum":8.8,"type":"quantitative","axis":{"orient":"top","labels":false,"title":null,"values":[1,20,40,60,74]}},"y":{"datum":-1.48,"type":"quantitative","axis":{"orient":"right","labels":false,"title":null,"values":[0,-2,-4]}},"text":{"field":"lab"}}}
]},
{"width":238,"height":105,"layer":[
 {"data":{"name":"d"},"transform":[{"filter":"datum.p=='c4'"}],"mark":{"type":"line","strokeWidth":1.5},
  "encoding":{"x":{"field":"t","type":"quantitative","scale":{"domain":[0,75],"nice":false,"zero":false},"axis":{"orient":"bottom","values":[1,20,40,60,74],"title":null}},
   "y":{"field":"v","type":"quantitative","scale":{"domain":[-4,1],"nice":false,"zero":false},"axis":{"orient":"left","values":[0,-2,-4],"labelExpr":"datum.value+''","title":null}},
   "color":{"field":"s","type":"nominal","scale":{"domain":["W","T1","R","T2","E"],"range":["#D95319","#000000","#000000","#0072BD","#0072BD"]},"legend":null},
   "strokeDash":{"field":"s","type":"nominal","scale":{"domain":["W","T1","R","T2","E"],"range":[[1,0],[1.5,2.5],[1,0],[1.5,2.5],[1,0]]},"legend":null}}},
 {"data":{"values":[{"lab":"Task III"}]},"mark":{"type":"text","align":"left","baseline":"alphabetic","font":"Liberation Serif","fontSize":25},
  "encoding":{"x":{"datum":5.5,"type":"quantitative","axis":{"orient":"top","labels":false,"title":null,"values":[1,20,40,60,74]}},"y":{"datum":-1.48,"type":"quantitative","axis":{"orient":"right","labels":false,"title":null,"values":[0,-2,-4]}},"text":{"field":"lab"}}}
]},
{"width":238,"height":105,"layer":[
 {"data":{"name":"d"},"transform":[{"filter":"datum.p=='d4'"}],"mark":{"type":"line","strokeWidth":1.5},
  "encoding":{"x":{"field":"t","type":"quantitative","scale":{"domain":[0,75],"nice":false,"zero":false},"axis":{"orient":"bottom","values":[1,20,40,60,74],"title":null}},
   "y":{"field":"v","type":"quantitative","scale":{"domain":[-5,1],"nice":false,"zero":false},"axis":{"orient":"left","values":[0,-2,-4],"labelExpr":"datum.value+''","title":null}},
   "color":{"field":"s","type":"nominal","scale":{"domain":["W","T1","R","T2","E"],"range":["#D95319","#000000","#000000","#0072BD","#0072BD"]},"legend":null},
   "strokeDash":{"field":"s","type":"nominal","scale":{"domain":["W","T1","R","T2","E"],"range":[[1,0],[1.5,2.5],[1,0],[1.5,2.5],[1,0]]},"legend":null}}},
 {"data":{"values":[{"lab":"Task III"}]},"mark":{"type":"text","align":"left","baseline":"alphabetic","font":"Liberation Serif","fontSize":25},
  "encoding":{"x":{"datum":5.4,"type":"quantitative","axis":{"orient":"top","labels":false,"title":null,"values":[1,20,40,60,74]}},"y":{"datum":-1.9,"type":"quantitative","axis":{"orient":"right","labels":false,"title":null,"values":[0,-2,-4]}},"text":{"field":"lab"}}}
]},

{"width":240,"height":105,"layer":[
 {"data":{"name":"d"},"transform":[{"filter":"datum.p=='a5'"}],"mark":{"type":"line","strokeWidth":1.5},
  "encoding":{"x":{"field":"t","type":"quantitative","scale":{"domain":[0,81],"nice":false,"zero":false},"axis":{"orient":"bottom","values":[1,10,20,30,40,50,60,70,80],"title":"Time step (l)"}},
   "y":{"field":"v","type":"quantitative","scale":{"domain":[-2,1],"nice":false,"zero":false},"axis":{"orient":"left","values":[1,0,-1,-2],"labelExpr":"datum.value+''","title":null}},
   "color":{"field":"s","type":"nominal","scale":{"domain":["W","T1","R","T2","E"],"range":["#D95319","#000000","#000000","#0072BD","#0072BD"]},"legend":null},
   "strokeDash":{"field":"s","type":"nominal","scale":{"domain":["W","T1","R","T2","E"],"range":[[1,0],[1.5,2.5],[1,0],[1.5,2.5],[1,0]]},"legend":null}}},
 {"data":{"values":[{"lab":"Task IV"}]},"mark":{"type":"text","align":"left","baseline":"alphabetic","font":"Liberation Serif","fontSize":25},
  "encoding":{"x":{"datum":6.7,"type":"quantitative","axis":{"orient":"top","labels":false,"title":null,"values":[1,10,20,30,40,50,60,70,80]}},"y":{"datum":0.17,"type":"quantitative","axis":{"orient":"right","labels":false,"title":null,"values":[1,0,-1,-2]}},"text":{"field":"lab"}}}
]},
{"width":24,"height":105,"view":{"stroke":null},"data":{"values":[{"a":1}]},"mark":{"type":"point","opacity":0}},
{"width":239,"height":105,"layer":[
 {"data":{"name":"d"},"transform":[{"filter":"datum.p=='b5'"}],"mark":{"type":"line","strokeWidth":1.5},
  "encoding":{"x":{"field":"t","type":"quantitative","scale":{"domain":[0,75],"nice":false,"zero":false},"axis":{"orient":"bottom","values":[1,20,40,60,74],"title":"Time step (l)"}},
   "y":{"field":"v","type":"quantitative","scale":{"domain":[-2,1],"nice":false,"zero":false},"axis":{"orient":"left","values":[1,0,-1,-2],"labelExpr":"datum.value+''","title":null}},
   "color":{"field":"s","type":"nominal","scale":{"domain":["W","T1","R","T2","E"],"range":["#D95319","#000000","#000000","#0072BD","#0072BD"]},"legend":null},
   "strokeDash":{"field":"s","type":"nominal","scale":{"domain":["W","T1","R","T2","E"],"range":[[1,0],[1.5,2.5],[1,0],[1.5,2.5],[1,0]]},"legend":null}}},
 {"data":{"values":[{"lab":"Task IV"}]},"mark":{"type":"text","align":"left","baseline":"alphabetic","font":"Liberation Serif","fontSize":25},
  "encoding":{"x":{"datum":8.8,"type":"quantitative","axis":{"orient":"top","labels":false,"title":null,"values":[1,20,40,60,74]}},"y":{"datum":0.06,"type":"quantitative","axis":{"orient":"right","labels":false,"title":null,"values":[1,0,-1,-2]}},"text":{"field":"lab"}}}
]},
{"width":238,"height":105,"layer":[
 {"data":{"name":"d"},"transform":[{"filter":"datum.p=='c5'"}],"mark":{"type":"line","strokeWidth":1.5},
  "encoding":{"x":{"field":"t","type":"quantitative","scale":{"domain":[0,75],"nice":false,"zero":false},"axis":{"orient":"bottom","values":[1,20,40,60,74],"title":"Time step (l)"}},
   "y":{"field":"v","type":"quantitative","scale":{"domain":[-2,1],"nice":false,"zero":false},"axis":{"orient":"left","values":[1,0,-1,-2],"labelExpr":"datum.value+''","title":null}},
   "color":{"field":"s","type":"nominal","scale":{"domain":["W","T1","R","T2","E"],"range":["#D95319","#000000","#000000","#0072BD","#0072BD"]},"legend":null},
   "strokeDash":{"field":"s","type":"nominal","scale":{"domain":["W","T1","R","T2","E"],"range":[[1,0],[1.5,2.5],[1,0],[1.5,2.5],[1,0]]},"legend":null}}},
 {"data":{"values":[{"lab":"Task IV"}]},"mark":{"type":"text","align":"left","baseline":"alphabetic","font":"Liberation Serif","fontSize":25},
  "encoding":{"x":{"datum":5.5,"type":"quantitative","axis":{"orient":"top","labels":false,"title":null,"values":[1,20,40,60,74]}},"y":{"datum":0.03,"type":"quantitative","axis":{"orient":"right","labels":false,"title":null,"values":[1,0,-1,-2]}},"text":{"field":"lab"}}}
]},
{"width":238,"height":105,"layer":[
 {"data":{"name":"d"},"transform":[{"filter":"datum.p=='d5'"}],"mark":{"type":"line","strokeWidth":1.5},
  "encoding":{"x":{"field":"t","type":"quantitative","scale":{"domain":[0,75],"nice":false,"zero":false},"axis":{"orient":"bottom","values":[1,20,40,60,74],"title":"Time step (l)"}},
   "y":{"field":"v","type":"quantitative","scale":{"domain":[-2,1],"nice":false,"zero":false},"axis":{"orient":"left","values":[1,0,-1,-2],"labelExpr":"datum.value+''","title":null}},
   "color":{"field":"s","type":"nominal","scale":{"domain":["W","T1","R","T2","E"],"range":["#D95319","#000000","#000000","#0072BD","#0072BD"]},"legend":null},
   "strokeDash":{"field":"s","type":"nominal","scale":{"domain":["W","T1","R","T2","E"],"range":[[1,0],[1.5,2.5],[1,0],[1.5,2.5],[1,0]]},"legend":null}}},
 {"data":{"values":[{"lab":"Task IV"}]},"mark":{"type":"text","align":"left","baseline":"alphabetic","font":"Liberation Serif","fontSize":25},
  "encoding":{"x":{"datum":5.4,"type":"quantitative","axis":{"orient":"top","labels":false,"title":null,"values":[1,20,40,60,74]}},"y":{"datum":0.06,"type":"quantitative","axis":{"orient":"right","labels":false,"title":null,"values":[1,0,-1,-2]}},"text":{"field":"lab"}}}
]}
],
"config":{
 "view":{"stroke":"#262626","strokeWidth":1},
 "axis":{"grid":false,"domain":false,"tickSize":-4,"tickColor":"#262626","tickWidth":1,"labelFont":"Liberation Sans","labelFontSize":13,"labelColor":"#262626","labelPadding":12,"titleFont":"Liberation Serif","titleFontWeight":"normal","titleColor":"#000000","titleFontSize":20,"titlePadding":10},
 "axisY":{"labelPadding":13},
 "text":{"color":"#000000"}
}
}
